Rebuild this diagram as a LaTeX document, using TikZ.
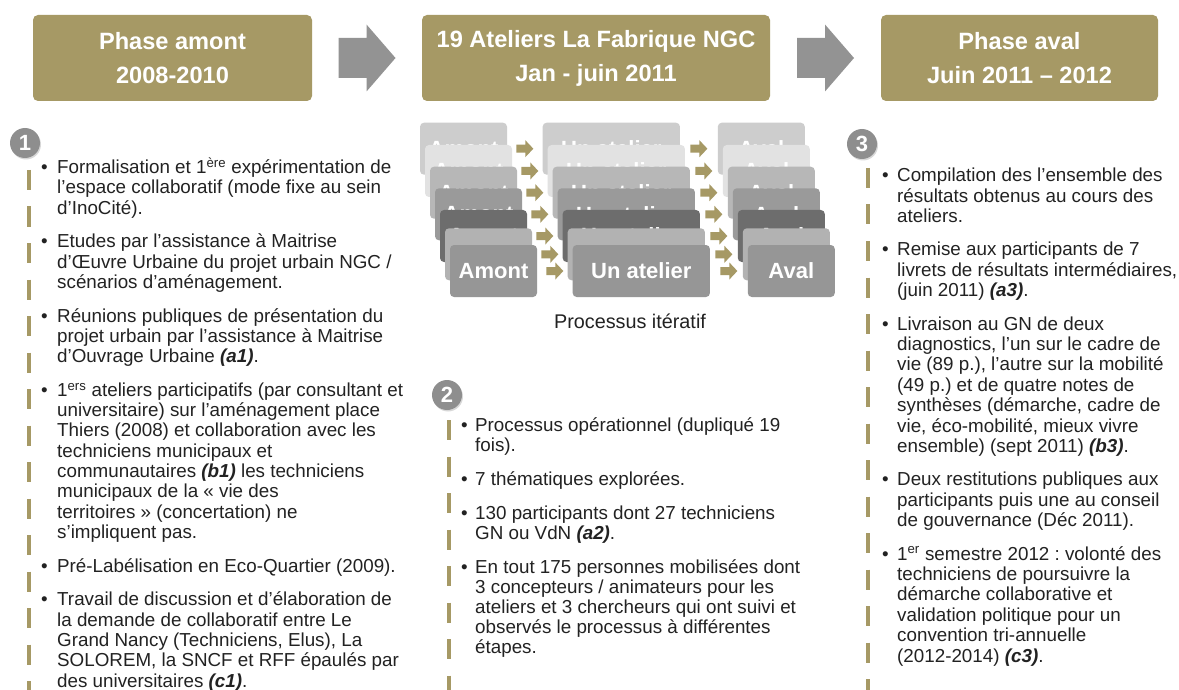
\documentclass[tikz,border=0pt]{standalone}
\usepackage{fontspec}
\setmainfont{Liberation Sans}
\usetikzlibrary{calc,shadows}
\frenchspacing
\definecolor{gold}{HTML}{A69965}
\definecolor{arrgray}{HTML}{939393}
\definecolor{numgray}{HTML}{8E8E8E}
\definecolor{ink}{HTML}{222222}
\definecolor{card1}{HTML}{CDCDCD}
\definecolor{card2}{HTML}{E2E2E2}
\definecolor{card3}{HTML}{B7B7B7}
\definecolor{card4}{HTML}{9A9A9A}
\definecolor{card5}{HTML}{6D6D6D}
\definecolor{card6}{HTML}{B2B2B2}
\definecolor{card7}{HTML}{969696}
\newlength\hng
\newcommand\itm[1]{\par\hangindent=\hng\hangafter=1\noindent\makebox[\hng][l]{\textbullet}#1\par}
\newcommand\bi[1]{\textbf{\textit{#1}}}
% block arrow: centre, length, head length, shaft width, head width, colour
\newcommand\blockarrow[6]{\fill[#6] (#1) ++(-#2/2,-#4/2) -- ++(#2-#3,0) -- ++(0,-#5/2+#4/2)
  -- ++(#3,#5/2) -- ++(-#3,#5/2) -- ++(0,-#5/2+#4/2) -- ++(-#2+#3,0) -- cycle;}
\tikzset{
  phase/.style={fill=gold, rounded corners=5pt, text=white, align=center, minimum height=86pt,
    inner sep=0pt, font=\fontsize{23.6}{34}\selectfont\bfseries},
  card/.style={fill=#1, rounded corners=4pt, minimum height=52pt, inner sep=0pt, text=white,
    font=\fontsize{22}{26}\selectfont\bfseries},
  num/.style={circle, fill=numgray, minimum size=30pt, inner sep=0pt, text=white,
    font=\fontsize{22}{26}\selectfont\bfseries,
    drop shadow={opacity=.3, shadow xshift=1pt, shadow yshift=-1.5pt}},
  dashline/.style={draw=gold, line width=4pt, dash pattern=on 20pt off 16.5pt},
  column/.style={anchor=base west, inner sep=0pt, text=ink}
}
\begin{document}
\begin{tikzpicture}[x=1pt, y=-1pt]
	\useasboundingbox[fill=white] (0,0) rectangle (1179,690);
	% phases
	\node[phase, minimum width=279pt] (ph1) at (172.5,58) {Phase amont\\2008-2010};
	\node[phase, minimum width=348pt] (ph2) at (596,58) {19 Ateliers La Fabrique NGC\\Jan - juin 2011};
	\node[phase, minimum width=277pt] (ph3) at (1019.5,58) {Phase aval\\Juin 2011 – 2012};
	\blockarrow{$(ph1.east)!.5!(ph2.west)$}{57}{29}{40}{67}{arrgray}
	\blockarrow{$(ph2.east)!.5!(ph3.west)$}{57}{29}{40}{67}{arrgray}
	% iterative process
	\foreach \top [count=\k] in {122.7,145,166.7,188.3,210,228.3,245}{
		\node[card=card\k, minimum width=87pt] (a\k) at (458.5+5*\k, \top+26) {Amont};
		\node[card=card\k, minimum width=137.3pt] (u\k) at (606.3+5*\k, \top+26) {Un atelier};
		\node[card=card\k, minimum width=87pt] (v\k) at (756.3+5*\k, \top+26) {Aval};
	}
	\foreach \k in {1,...,7}{
		\blockarrow{$(a\k.east)!.5!(u\k.west)$}{17}{8}{8}{17}{gold}
		\blockarrow{$(u\k.east)!.5!(v\k.west)$}{17}{8}{8}{17}{gold}
	}
	\node[anchor=base, text=ink, font=\fontsize{19.8}{24}\selectfont] (iter) at (630,328) {Processus itératif};
	% numbered columns
	\node[num] (n1) at (25,143) {1};
	\node[num] (n2) at (447,395) {2};
	\node[num] (n3) at (862,144) {3};
	\draw[dashline] (28.5,170) -- (28.5,700);
	\draw[dashline] (448.5,420) -- (448.5,700);
	\draw[dashline] (868,168) -- (868,700);
	\node[column] (colA) at (41,173.5) {\parbox[t]{380pt}{\fontsize{18.8}{20.3}\selectfont
		\setlength\hng{16pt}\setlength\parskip{13.4pt}
		\itm{Formalisation et 1\textsuperscript{ère} expérimentation de\\l’espace collaboratif (mode fixe au sein\\d’InoCité).}
		\itm{Etudes par l’assistance à Maitrise\\d’Œuvre Urbaine du projet urbain NGC /\\scénarios d’aménagement.}
		\itm{Réunions publiques de présentation du\\projet urbain par l’assistance à Maitrise\\d’Ouvrage Urbaine \bi{(a1)}.}
		\itm{1\textsuperscript{ers} ateliers participatifs (par consultant et\\universitaire) sur l’aménagement place\\Thiers (2008) et collaboration avec les\\techniciens municipaux et\\communautaires \bi{(b1)} les techniciens\\municipaux de la « vie des\\territoires » (concertation) ne\\s’impliquent pas.}
		\itm{Pré-Labélisation en Eco-Quartier (2009).}
		\itm{Travail de discussion et d’élaboration de\\la demande de collaboratif entre Le\\Grand Nancy (Techniciens, Elus), La\\SOLOREM, la SNCF et RFF épaulés par\\des universitaires \bi{(c1)}.}}};
	\node[column] (colB) at (461,431.7) {\parbox[t]{360pt}{\fontsize{18.8}{19.8}\selectfont
		\setlength\hng{14pt}\setlength\parskip{14.4pt}
		\itm{Processus opérationnel (dupliqué 19\\fois).}
		\itm{7 thématiques explorées.}
		\itm{130 participants dont 27 techniciens\\GN ou VdN \bi{(a2)}.}
		\itm{En tout 175 personnes mobilisées dont\\3 concepteurs / animateurs pour les\\ateliers et 3 chercheurs qui ont suivi et\\observés le processus à différentes\\étapes.}}};
	\node[column] (colC) at (882,181.7) {\parbox[t]{320pt}{\fontsize{18.8}{20.4}\selectfont
		\setlength\hng{15pt}\setlength\parskip{13pt}
		\itm{Compilation des l’ensemble des\\résultats obtenus au cours des\\ateliers.}
		\itm{Remise aux participants de 7\\livrets de résultats intermédiaires,\\(juin 2011) \bi{(a3)}.}
		\itm{Livraison au GN de deux\\diagnostics, l’un sur le cadre de\\vie (89 p.), l’autre sur la mobilité\\(49 p.) et de quatre notes de\\synthèses (démarche, cadre de\\vie, éco-mobilité, mieux vivre\\ensemble) (sept 2011) \bi{(b3)}.}
		\itm{Deux restitutions publiques aux\\participants puis une au conseil\\de gouvernance (Déc 2011).}
		\itm{1\textsuperscript{er} semestre 2012 : volonté des\\techniciens de poursuivre la\\démarche collaborative et\\validation politique pour un\\convention tri-annuelle\\(2012-2014) \bi{(c3)}.}}};
\end{tikzpicture}
\end{document}
